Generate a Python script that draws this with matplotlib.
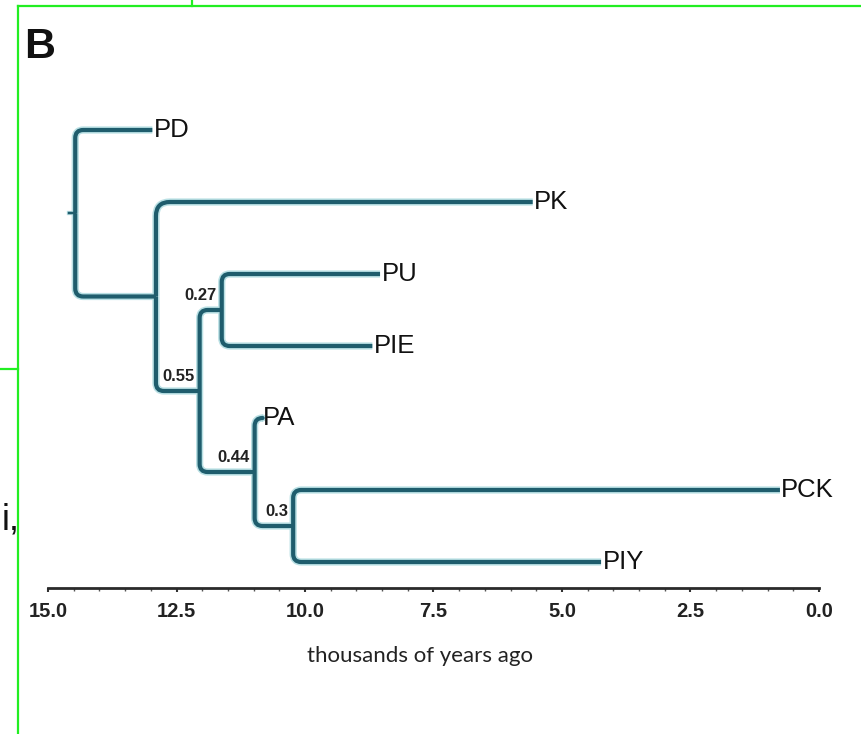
import matplotlib
matplotlib.use("Agg")
import matplotlib.pyplot as plt
from matplotlib.patches import FancyArrowPatch
from matplotlib.lines import Line2D
from matplotlib.ticker import MultipleLocator

# ---------------- data ----------------
leaf_names = ["PD", "PK", "PU", "PIE", "PA", "PCK", "PIY"]
leaf_ages = [12.97, 5.57, 8.54, 8.69, 10.84, 0.76, 4.24]   # thousands of years ago

node_names = ["root", "A", "B", "C", "D", "E"]
node_ages = [14.47, 12.90, 12.05, 11.62, 10.98, 10.23]
node_children = [["PD", "A"], ["PK", "B"], ["C", "D"], ["PU", "PIE"], ["PA", "E"], ["PCK", "PIY"]]
node_support = {"C": "0.27", "B": "0.55", "D": "0.44", "E": "0.3"}
root_stub_age = 14.60

x_ticks = [15.0, 12.5, 10.0, 7.5, 5.0, 2.5, 0.0]
x_label = "thousands of years ago"

# ---------------- layout ----------------
W, H = 862, 734
fig = plt.figure(figsize=(W / 100, H / 100), dpi=100)
fig.patch.set_facecolor("white")

ax_left, ax_right, ax_top, ax_bot = 48, 819, 100, 588
ax = fig.add_axes([ax_left / W, 1 - ax_bot / H, (ax_right - ax_left) / W, (ax_bot - ax_top) / H])
ax.set_xlim(15.0, 0.0)
leaf_y0, leaf_dy = 130, 72
ax.set_ylim((ax_bot - leaf_y0) / leaf_dy, (ax_top - leaf_y0) / leaf_dy)

# positions
age = {n: a for n, a in zip(leaf_names, leaf_ages)}
age.update({n: a for n, a in zip(node_names, node_ages)})
ypos = {n: i for i, n in enumerate(leaf_names)}
children = dict(zip(node_names, node_children))


def get_y(n):
    if n in ypos:
        return ypos[n]
    ys = [get_y(c) for c in children[n]]
    ypos[n] = sum(ys) / len(ys)
    return ypos[n]


for n in node_names:
    get_y(n)

edges = [(p, c) for p in node_names for c in children[p]]

line_col = "#1f5d6d"
halo_col = "#b9e0e4"
lw = 3.0
for color, width, z in [(halo_col, lw + 2.2, 2), (line_col, lw, 3)]:
    for p, c in edges:
        rad = 14 if c == "PK" else 8
        patch = FancyArrowPatch((age[p], ypos[p]), (age[c], ypos[c]),
                                arrowstyle="-",
                                connectionstyle=f"angle,angleA=90,angleB=0,rad={rad}",
                                shrinkA=0, shrinkB=0, lw=width, color=color,
                                zorder=z, capstyle="butt", joinstyle="round")
        ax.add_patch(patch)
    ax.add_line(Line2D([root_stub_age, age["root"]], [ypos["root"], ypos["root"]],
                       lw=width * 0.6, color=color, zorder=z))

# leaf labels
for n in leaf_names:
    ax.annotate(n, (age[n], ypos[n]), xytext=(1, 0), textcoords="offset points",
                ha="left", va="center", fontsize=18.5, family="Liberation Sans",
                color="#111111", zorder=5)

# support values
for n, s in node_support.items():
    ax.annotate(s, (age[n], ypos[n]), xytext=(-3.5, 5), textcoords="offset points",
                ha="right", va="bottom", fontsize=12, fontweight="bold",
                family="Liberation Sans", color="#222222", zorder=5)

# axis styling
for sp in ["left", "right", "top"]:
    ax.spines[sp].set_visible(False)
ax.spines["bottom"].set_linewidth(2.0)
ax.spines["bottom"].set_color("#2a2a2a")
ax.set_yticks([])
ax.set_xticks(x_ticks)
ax.set_xticklabels([f"{t:.1f}" for t in x_ticks])
ax.xaxis.set_minor_locator(MultipleLocator(0.5))
ax.tick_params(axis="x", which="major", length=3, width=1.5, color="#333333", pad=7,
               labelsize=14.5, labelcolor="#222222")
ax.tick_params(axis="x", which="minor", length=2, width=1.0, color="#555555")
for lbl in ax.get_xticklabels():
    lbl.set_fontweight("bold")
    lbl.set_family("Liberation Sans")
ax.patch.set_alpha(0)

fig.text(420 / W, 1 - 656 / H, x_label, ha="center", va="center", fontsize=16,
         family="Lato", color="#222222")

# panel letter and page context
fig.text(24 / W, 1 - 47 / H, "B", ha="left", va="center", fontsize=31, fontweight="bold",
         family="Liberation Sans", color="#111111")
fig.text(20 / W, 1 - 530 / H, "i,", ha="right", va="baseline", fontsize=26,
         family="Liberation Sans", color="#111111")

green = "#22ee22"
for xs, ys in [([18, 862], [6, 6]), ([18, 18], [6, 734]), ([192, 192], [0, 6]), ([0, 18], [369, 369])]:
    fig.add_artist(Line2D([x / W for x in xs], [1 - y / H for y in ys], lw=1.6, color=green,
                          transform=fig.transFigure))

fig.savefig("out.png", dpi=100, facecolor="white")
